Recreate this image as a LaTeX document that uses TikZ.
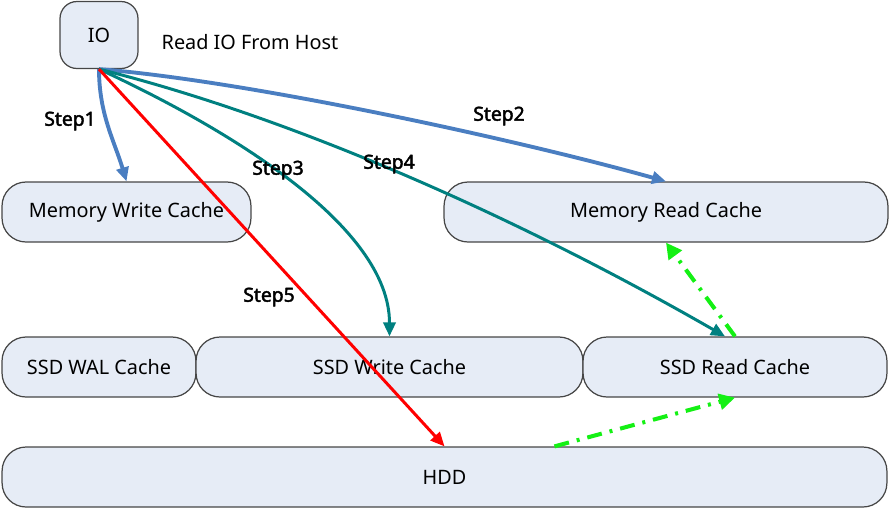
\documentclass[tikz,border=0pt]{standalone}
\usepackage{fontspec}
\setmainfont{Noto Sans}[AutoFakeBold=2.2]
\usetikzlibrary{arrows.meta}
\definecolor{boxfill}{RGB}{230,236,246}
\definecolor{boxline}{RGB}{70,70,70}
\definecolor{stepblue}{RGB}{74,126,193}
\definecolor{stepteal}{RGB}{0,128,128}
\definecolor{stepred}{RGB}{255,0,0}
\definecolor{stepgreen}{RGB}{20,240,20}
\begin{document}
\begin{tikzpicture}[x=0.02cm,y=-0.02cm,line join=round,font=\fontsize{11.3}{13}\selectfont,
    box/.style={draw=boxline,fill=boxfill,line width=0.7pt,rounded corners=0.48cm,minimum height=1.2cm,inner sep=0pt},
    stepl/.style={font=\fontsize{11}{13}\selectfont\bfseries},
    flow/.style={line width=1.7pt,-{Triangle[length=8pt,width=7pt]}},
    refill/.style={draw=stepgreen,line width=2.3pt,dash pattern=on 0.3cm off 0.16cm on 0.06cm off 0.16cm,-{Triangle[length=9pt,width=9pt]}}]
    % pixel grid of the reference, y downwards
    \useasboundingbox (0,0) rectangle (889,511);
    % cache levels
    \node[box,minimum width=1.56cm,minimum height=1.34cm,rounded corners=0.34cm] (io) at (99,35) {IO};
    \node (host) at (250,42) {Read IO From Host};
    \node[box,minimum width=4.98cm] (mwc) at (126.5,212) {Memory Write Cache};
    \node[box,minimum width=8.88cm] (mrc) at (666,212) {Memory Read Cache};
    \node[box,minimum width=3.88cm] (wal) at (99,367) {SSD WAL Cache};
    \node[box,minimum width=7.74cm] (sw) at (389.5,367) {SSD Write Cache};
    \node[box,minimum width=6.08cm] (sr) at (735,367) {SSD Read Cache};
    \node[box,minimum width=17.7cm] (hdd) at (444.5,477) {HDD};
    % steps
    \draw[flow,stepblue,line width=2.2pt] (io.south) .. controls +(0,45) and +(-12,-40) .. (mwc.north);
    \draw[flow,stepblue,line width=2.2pt] (io.south) .. controls +(150,12) and +(-150,-42) .. (mrc.north);
    \draw[flow,stepteal] (io.south) .. controls +(130,60) and +(0,-110) .. (sw.north);
    \draw[flow,stepteal] (io.south) .. controls +(200,50) and +(-200,-115) .. ([xshift=-0.2cm]sr.north);
    \draw[flow,stepred] (io.south) -- (hdd.north);
    \draw[refill] (sr.north) -- (mrc.south);
    \draw[refill] ([xshift=2.2cm]hdd.north) -- (sr.south);
    \node[stepl] (s1) at (70,121) {Step1};
    \node[stepl] (s2) at (499,116) {Step2};
    \node[stepl] (s3) at (278,170) {Step3};
    \node[stepl] (s4) at (389,164) {Step4};
    \node[stepl] (s5) at (269,297) {Step5};
\end{tikzpicture}
\end{document}
